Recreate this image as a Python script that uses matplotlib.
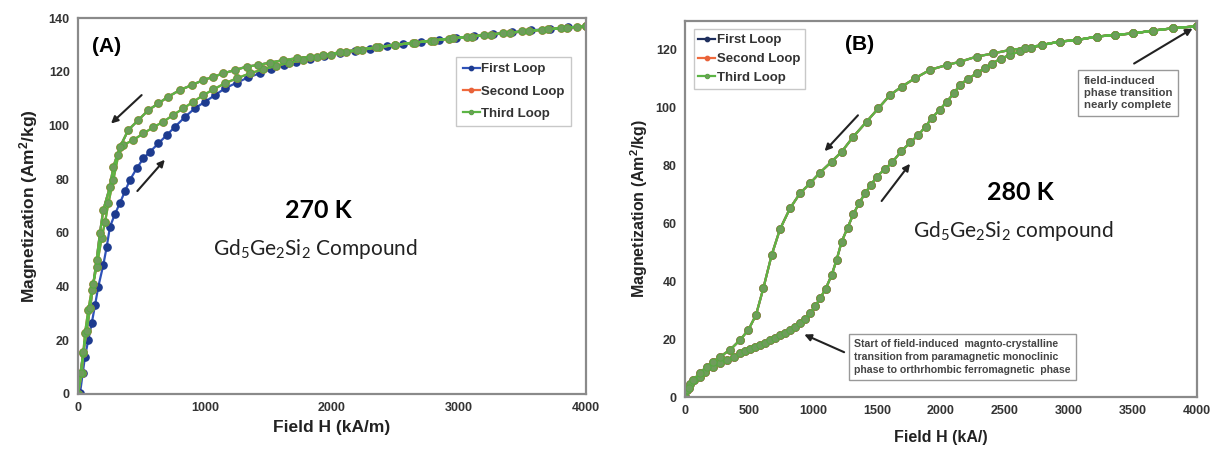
import matplotlib.pyplot as plt
import numpy as np

plt.rcParams['font.family'] = ['Liberation Sans', 'DejaVu Sans']
plt.rcParams['mathtext.default'] = 'regular'

# ---- panel A, 270 K ----
# first loop, field up (virgin curve)
a_first_up_h = [0, 16, 37, 55, 81, 108, 134, 160, 199, 226, 252, 291, 331, 370, 409, 462, 514, 567,
                 633, 698, 764, 843, 921, 1000, 1079, 1157, 1249, 1341, 1433, 1520, 1620, 1720, 1830,
                 1940, 2060, 2180, 2300, 2430, 2560, 2700, 2840, 2980, 3120, 3270, 3420, 3570, 3720,
                 3860, 4000]
a_first_up_m = [0, 0.3, 7.7, 13.9, 20.1, 26.3, 33.1, 40, 48, 54.8, 62.3, 67.0, 71.2, 75.5, 79.7, 84,
                87.7, 90.2, 93.3, 96.4, 99.5, 103.2, 106.4, 108.8, 111.3, 113.8, 115.9, 117.9, 119.4,
                121, 122.5, 123.7, 124.8, 125.8, 126.8, 127.7, 128.6, 129.5, 130.3, 131.1, 131.9,
                132.6, 133.3, 134.0, 134.7, 135.4, 136.0, 136.5, 137]
# second / third loop, field up
a_loop_up_h = [0, 29, 42, 55, 81, 108, 147, 186, 213, 239, 278, 318, 357, 436, 514, 593, 672, 751,
               830, 908, 987, 1066, 1157, 1249, 1354, 1459, 1560, 1660, 1770, 1880, 1990, 2110,
               2240, 2370, 2500, 2640, 2780, 2920, 3060, 3200, 3350, 3500, 3650, 3800, 3930, 4000]
a_loop_up_m = [0, 7.7, 15.2, 22.6, 31.3, 38.7, 47.4, 58, 64, 71, 79.7, 89, 92.7, 94.6, 97, 99.3,
               101.4, 103.9, 106.4, 108.8, 111.3, 113.4, 115.7, 117.5, 119.4, 120.9, 122.2, 123.3,
               124.4, 125.4, 126.3, 127.2, 128.2, 129.1, 130.0, 130.8, 131.6, 132.3, 133.0, 133.7,
               134.4, 135.0, 135.6, 136.2, 136.7, 137]
# field down (all loops)
a_down_h = [0, 20, 42, 68, 95, 121, 147, 173, 199, 252, 278, 331, 396, 475, 554, 633, 711, 803,
            895, 987, 1066, 1144, 1236, 1328, 1420, 1512, 1617, 1722, 1827, 1932, 2060, 2200,
            2350, 2500, 2650, 2800, 2950, 3100, 3250, 3400, 3550, 3700, 3850, 4000]
a_down_m = [0, 8, 15.5, 23.5, 32, 41, 50, 60, 68.5, 77.2, 84.6, 92, 98.3, 102, 105.7, 108.2, 110.7,
            113.2, 115, 116.9, 118.1, 119.4, 120.6, 121.9, 122.5, 123.4, 124.3, 125, 125.6, 126.2,
            127.2, 128.2, 129.1, 130.0, 130.8, 131.6, 132.4, 133.1, 133.8, 134.5, 135.2, 135.8,
            136.4, 137]

# ---- panel B, 280 K ----
b_up_h = [0, 13, 40, 70, 117, 160, 221, 270, 326, 380, 430, 470, 508, 547, 586, 625, 664, 703, 742,
          781, 820, 859, 898, 938, 977, 1016, 1055, 1100, 1146, 1185, 1224, 1270, 1315, 1360, 1406,
          1452, 1498, 1560, 1620, 1690, 1760, 1823, 1880, 1927, 1990, 2045, 2100, 2148, 2210, 2279,
          2340, 2396, 2470, 2539, 2620, 2700, 2787, 2930, 3060, 3216, 3359, 3502, 3659, 3815, 4000]
b_up_m = [0, 2.4, 4.5, 5.8, 7, 8.8, 10.5, 11.8, 12.8, 14, 15.1, 15.8, 16.5, 17.2, 18, 18.8, 19.7,
          20.5, 21.4, 22.3, 23.2, 24.3, 25.5, 27.1, 28.9, 31.3, 34.1, 37.5, 42.2, 47.5, 53.7, 58.5,
          63.2, 67, 70.4, 73.3, 76.2, 78.7, 81.2, 85, 88, 90.6, 93.5, 96.4, 99.3, 102.1, 105, 107.9,
          110, 111.9, 113.7, 115.3, 117, 118.3, 119.6, 120.6, 121.7, 122.9, 123.4, 124.6, 125.2,
          125.7, 126.7, 127.5, 128.2]
b_down_h = [0, 30, 65, 117, 169, 220, 273, 352, 430, 495, 555, 612, 677, 742, 820, 898, 977, 1055,
            1146, 1224, 1315, 1419, 1510, 1602, 1693, 1797, 1914, 2045, 2148, 2279, 2409, 2539,
            2656, 2787, 2930, 3060, 3216, 3359, 3502, 3659, 3815, 4000]
b_down_m = [0, 3.2, 5.9, 8.3, 10.5, 12.2, 13.9, 16.3, 19.7, 23.2, 28.4, 37.6, 49.1, 58, 65.2, 70.4,
            73.9, 77.6, 81.4, 84.8, 90, 95.2, 99.8, 104.4, 107.3, 110.2, 113.1, 114.8, 115.9, 117.7,
            118.8, 120, 120.6, 121.7, 122.9, 123.4, 124.6, 125.2, 125.7, 126.7, 127.5, 128.2]

W, H = 1222, 458
fig = plt.figure(figsize=(W / 100, H / 100), dpi=100)

def px(x, y):
    return x / W, 1 - y / H

green = dict(color='#5cb545', marker='o', markersize=5.2, markerfacecolor='#6f9c5c',
             markeredgecolor='#58a843', markeredgewidth=0.8, lw=1.6)
red = dict(color='#f06a3c', marker='o', markersize=5.2, markerfacecolor='#e8623a',
           markeredgecolor='#e8623a', lw=1.6)


def style_axes(ax, fs):
    for s in ax.spines.values():
        s.set_color('#8a8a8a')
        s.set_linewidth(1.6)
    ax.tick_params(length=0, pad=6, labelsize=fs, colors='#333333')
    for lab in ax.get_xticklabels() + ax.get_yticklabels():
        lab.set_fontweight('bold')


# ---------------- panel A ----------------
ax1 = fig.add_axes([78 / W, 1 - 394 / H, 508 / W, 376 / H])
# first loop: up (visible) and down (covered by later loops)
ax1.plot(a_first_up_h, a_first_up_m, color='#2f52b8', marker='o', markersize=5.2,
         markerfacecolor='#1d3b8f', markeredgecolor='#1d3b8f', lw=1.6, label='First Loop')
ax1.plot(a_down_h[::-1], a_down_m[::-1], color='#2f52b8', lw=1.6)
ax1.plot(a_loop_up_h + a_down_h[::-1], a_loop_up_m + a_down_m[::-1], label='Second Loop', **red)
ax1.plot(a_loop_up_h + a_down_h[::-1], a_loop_up_m + a_down_m[::-1], label='Third Loop', **green)
ax1.set_xlim(0, 4000)
ax1.set_ylim(0, 140)
ax1.set_xticks([0, 1000, 2000, 3000, 4000])
ax1.set_yticks(range(0, 141, 20))
style_axes(ax1, 9)
ax1.set_xlabel('Field H (kA/m)', fontsize=12.5, fontweight='bold', color='#222222', labelpad=4)
ax1.set_ylabel('Magnetization (Am$^2$/kg)', fontsize=12.5, fontweight='bold', color='#222222',
               labelpad=6)
leg = ax1.legend(loc='upper right', bbox_to_anchor=(0.984, 0.915), fontsize=9.5, frameon=True,
                 fancybox=False, edgecolor='#bbbbbb', handlelength=1.3, handletextpad=0.1,
                 markerscale=0.6, labelspacing=0.75, borderpad=0.5)
for t in leg.get_texts():
    t.set_fontweight('bold')
    t.set_color('#333333')
fig.text(*px(107, 47), '(A)', fontsize=15, fontweight='bold', ha='center', va='center')
fig.text(*px(318, 211), '270 K', fontsize=18, fontweight='bold', family='Lato',
         ha='center', va='center')
fig.text(*px(315, 249), 'Gd$_5$Ge$_2$Si$_2$ Compound', fontsize=15, family='Lato',
         ha='center', va='center', color='#222222')
ax1.annotate('', xy=(244, 100), xytext=(517, 112),
             arrowprops=dict(arrowstyle='-|>', color='#222222', lw=1.5, mutation_scale=10))
ax1.annotate('', xy=(698, 88), xytext=(453, 74.8),
             arrowprops=dict(arrowstyle='-|>', color='#222222', lw=1.5, mutation_scale=10))

# ---------------- panel B ----------------
ax2 = fig.add_axes([685 / W, 1 - 397 / H, 512 / W, 376 / H])
ax2.plot(b_up_h + b_down_h[::-1], b_up_m + b_down_m[::-1], color='#1f2f5e', marker='o',
         markersize=5.2, markerfacecolor='#1f2f5e', markeredgecolor='#1f2f5e', lw=1.6,
         label='First Loop')
ax2.plot(b_up_h + b_down_h[::-1], b_up_m + b_down_m[::-1], label='Second Loop', **red)
ax2.plot(b_up_h + b_down_h[::-1], b_up_m + b_down_m[::-1], label='Third Loop', **green)
ax2.set_xlim(0, 4000)
ax2.set_ylim(0, 130)
ax2.set_xticks(range(0, 4001, 500))
ax2.set_yticks(range(0, 121, 20))
style_axes(ax2, 9)
ax2.set_xlabel('Field H (kA/)', fontsize=11.5, fontweight='bold', color='#222222', labelpad=9)
ax2.set_ylabel('Magnetization (Am$^2$/kg)', fontsize=11.5, fontweight='bold', color='#222222',
               labelpad=4)
leg2 = ax2.legend(loc='upper left', bbox_to_anchor=(0.004, 0.995), fontsize=9.5, frameon=True,
                  fancybox=False, edgecolor='#bbbbbb', handlelength=1.3, handletextpad=0.1,
                  markerscale=0.6, labelspacing=0.5, borderpad=0.35)
for t in leg2.get_texts():
    t.set_fontweight('bold')
    t.set_color('#333333')
fig.text(*px(860, 44), '(B)', fontsize=15, fontweight='bold', ha='center', va='center')
fig.text(*px(1020, 193), '280 K', fontsize=18, fontweight='bold', family='Lato',
         ha='center', va='center')
fig.text(*px(1013, 231), 'Gd$_5$Ge$_2$Si$_2$ compound', fontsize=15, family='Lato',
         ha='center', va='center', color='#222222')
arrow = dict(arrowstyle='-|>', color='#222222', lw=1.5, mutation_scale=10)
ax2.annotate('', xy=(1076, 84.3), xytext=(1366, 98.1), arrowprops=arrow)
ax2.annotate('', xy=(1771, 81.4), xytext=(1523, 67), arrowprops=arrow)
ax2.annotate('', xy=(3984, 127.9), xytext=(3490, 114.8), arrowprops=arrow)
ax2.annotate('', xy=(912, 22), xytext=(1263, 15.1), arrowprops=arrow)
box = dict(boxstyle='square,pad=0.5', fc='white', ec='#999999', lw=1)
fig.text(*px(1084, 93), 'field-induced\nphase transition\nnearly complete', fontsize=8.2,
         fontweight='bold', color='#444444', va='center', ha='left', linespacing=1.3, bbox=box)
fig.text(*px(854, 357), 'Start of field-induced  magnto-crystalline\n'
         'transition from paramagnetic monoclinic\n'
         'phase to orthrhombic ferromagnetic  phase', fontsize=7.6,
         fontweight='bold', color='#444444', va='center', ha='left', linespacing=1.35, bbox=box)

fig.savefig('out.png', dpi=100)
